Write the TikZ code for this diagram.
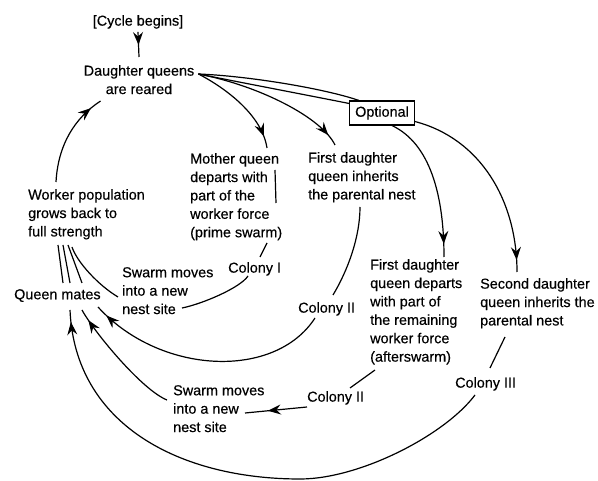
\documentclass[tikz,border=0pt]{standalone}
\usepackage{fontspec}
\setmainfont{Liberation Sans}[BoldFont=Liberation Sans, BoldFeatures={FakeBold=0.4}]
\usetikzlibrary{arrows.meta,positioning,decorations.markings}

\tikzset{
	txt/.style={inner sep=0pt, anchor=north west, align=left,
		font=\fontsize{14.4}{18.4}\selectfont\bfseries},
	link/.style={line width=1.2pt},
	flow/.style={line width=1.2pt, postaction={decorate},
		decoration={markings, mark=at position #1 with
			{\arrow{Stealth[length=13pt,width=10pt,inset=4.5pt]}}}},
	flow/.default=-12pt
}

\begin{document}
\begin{tikzpicture}[x=1pt,y=-1pt]
	\useasboundingbox (0,0) rectangle (598,481);
	
	% Stages of the cycle
	\node[txt, anchor=north] (cyc) at (138,15) {[Cycle begins]};
	\node[txt, anchor=north, align=center] (dq) at (139,65) {Daughter queens\\are reared};
	\node[txt] (wp) at (28,189) {Worker population\\grows back to\\full strength};
	\node[txt] (mq) at (190,153) {Mother queen\\departs with\\part of the\\worker force\\(prime swarm)};
	\node[txt] (fdi) at (308,152) {First daughter\\queen inherits\\the parental nest};
	\node[txt] (fdd) at (370,259) {First daughter\\queen departs\\with part of\\the remaining\\worker force\\(afterswarm)};
	\node[txt] (sdi) at (480,278) {Second daughter\\queen inherits the\\parental nest};
	\node[txt] (qm) at (14,289) {Queen mates};
	\node[txt] (sw1) at (122,267) {Swarm moves\\into a new\\nest site};
	\node[txt] (sw2) at (173,385) {Swarm moves\\into a new\\nest site};
	
	% Colonies
	\node[txt] (col1) at (228,262) {Colony I};
	\node[txt] (col2a) at (298,302) {Colony II};
	\node[txt] (col2b) at (307,391) {Colony II};
	\node[txt] (col3) at (455,377) {Colony III};
	
	\node[draw, line width=1.1pt, inner sep=0pt, minimum width=65pt, minimum height=24pt,
		font=\fontsize{14.4}{18.4}\selectfont\bfseries] (opt) at (382,113) {Optional};
	
	% Start of the cycle
	\draw[flow] ([yshift=-3pt]cyc.south) -- ([yshift=8pt]dq.north);
	\draw[flow] ([xshift=28pt,yshift=7pt]wp.north west)
		.. controls +(2,-37) and +(-26,17) .. ([xshift=17pt,yshift=-36pt]dq.north west);
	
	% Daughter queens reared
	\draw[flow] ([xshift=4pt,yshift=-9pt]dq.north east)
		.. controls +(27,14) and +(-5,-33) .. ([xshift=77pt,yshift=5pt]mq.north west);
	\draw[flow] ([xshift=4pt,yshift=-9pt]dq.north east)
		.. controls +(62,12) and +(-13,-27) .. ([xshift=27pt,yshift=7pt]fdi.north west);
	\draw[link] ([xshift=4pt,yshift=-9pt]dq.north east)
		.. controls +(50,2) and +(-35,-12) .. ([xshift=10pt]opt.north west);
	\draw[link] ([xshift=4pt,yshift=-9pt]dq.north east)
		.. controls +(40,8) and +(-30,-6) .. ([yshift=-3pt]opt.north west);
	
	% Optional afterswarm
	\draw[flow=-13pt] ([xshift=10pt]opt.south)
		.. controls +(38,18) and +(0,-62) .. ([xshift=74pt,yshift=2pt]fdd.north west);
	\draw[flow] ([yshift=4pt]opt.south east)
		.. controls +(65,17) and +(0,-72) .. ([xshift=37pt,yshift=6pt]sdi.north west);
	
	% Prime swarm
	\draw[link] ([xshift=85pt,yshift=-17pt]mq.north west) -- ([xshift=86pt,yshift=-50pt]mq.north west);
	\draw[link] ([xshift=77pt,yshift=-90pt]mq.north west) -- ([xshift=32pt,yshift=5pt]col1.north west);
	\draw[link] ([xshift=20pt,yshift=-14pt]col1.north west)
		.. controls +(-8,12) and +(20,-4) .. ([xshift=60pt,yshift=-41pt]sw1.north west);
	\draw[link] ([xshift=-4pt,yshift=-30pt]sw1.north west)
		.. controls +(-20,-12) and +(5,15) .. ([xshift=44pt,yshift=-58pt]wp.north west);
	
	% Queen mates, then workers grow back
	\foreach \a/\b in {49/30, 56/35, 68/40}
		\draw[link] ([xshift=\a pt,yshift=6pt]qm.north west) -- ([xshift=\b pt,yshift=-56pt]wp.north west);
	
	% Parental nest
	\draw[link] ([xshift=52pt,yshift=-55pt]fdi.north west)
		.. controls +(0,30) and +(15,-25) .. ([xshift=35pt,yshift=7pt]col2a.north west);
	\draw[flow] ([xshift=17pt,yshift=-16pt]col2a.north west)
		.. controls +(-40,62) and +(62,68) .. ([xshift=84pt,yshift=-18pt]qm.north west);
	
	% Afterswarm
	\draw[link] ([xshift=5pt,yshift=-111pt]fdd.north west) -- ([xshift=43pt,yshift=3pt]col2b.north west);
	\draw[flow=-23pt] ([yshift=-16pt]col2b.north west) -- ([xshift=72pt,yshift=-28pt]sw2.north west);
	\draw[flow] ([xshift=-6pt,yshift=-15pt]sw2.north west)
		.. controls +(-25,-10) and +(12,22) .. ([xshift=68pt,yshift=-21pt]qm.north west);
	
	% Second daughter
	\draw[link] ([xshift=25pt,yshift=-59pt]sdi.north west) -- ([xshift=35pt,yshift=9pt]col3.north west);
	\draw[flow] ([xshift=20pt,yshift=-18pt]col3.north west)
		.. controls +(-30,40) and (360,479) .. (300,479)
		.. controls (180,479) and (75,425) .. ([xshift=56pt,yshift=-21pt]qm.north west);
\end{tikzpicture}
\end{document}
